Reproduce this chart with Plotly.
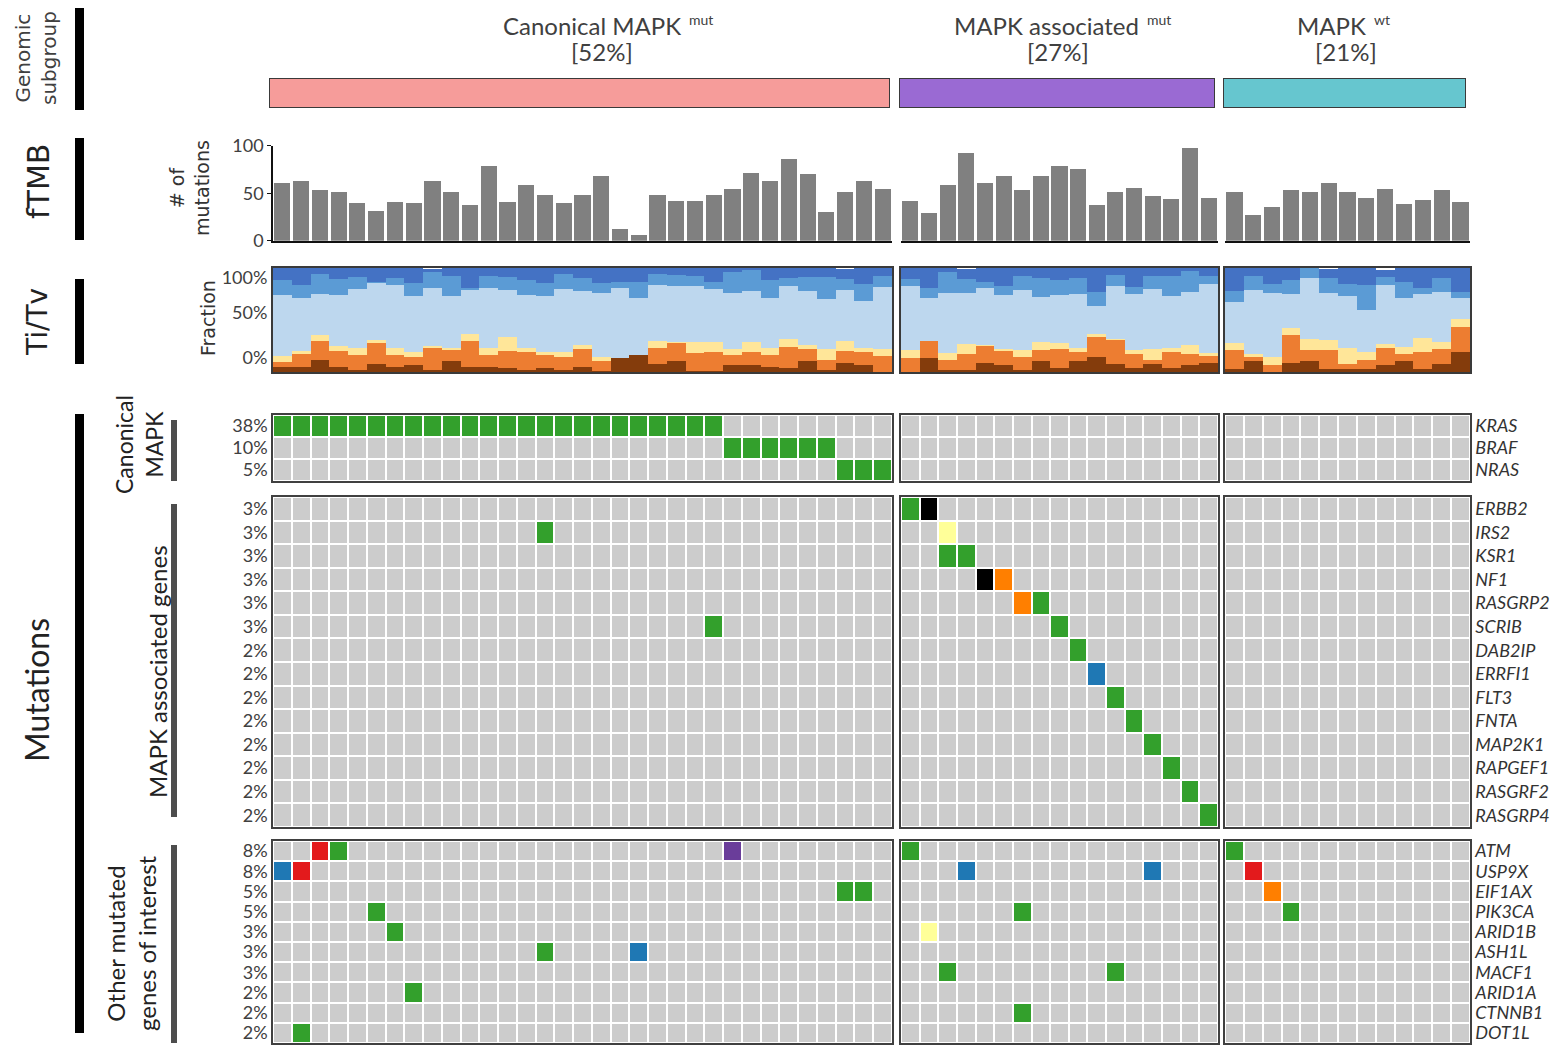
import plotly.graph_objects as go

W, H = 1560, 1045

# ---------------- data ----------------
group_titles = ["Canonical MAPK", "MAPK associated", "MAPK"]
group_status = ["mut", "mut", "wt"]
group_shares = ["[52%]", "[27%]", "[21%]"]
group_sizes = [33, 17, 13]
group_colors = ["#F69C9A", "#9A6AD3", "#66C6CF"]

# fTMB: number of mutations per sample
tmb_canonical = [61, 63, 53, 51, 40, 31, 41, 40, 63, 51, 38, 79, 41, 59, 48, 40, 48, 68,
                 12, 6, 48, 42, 42, 48, 54, 71, 63, 86, 70, 30, 51, 63, 54]
tmb_assoc = [42, 29, 59, 92, 61, 68, 53, 68, 79, 75, 38, 51, 56, 47, 44, 98, 45]
tmb_wt = [51, 27, 36, 53, 51, 61, 51, 45, 54, 39, 43, 53, 41]

# Ti/Tv spectrum (percent of mutations per sample, all 63 samples in plot order)
titv_classes = ["C>A", "C>G", "C>T", "T>A", "T>C", "T>G"]
titv_colors = ["#843C0C", "#ED7D31", "#FFE699", "#BDD7EE", "#5B9BD5", "#4472C4"]
titv_CA = [5, 5, 12, 5, 2, 8, 5, 7, 2, 11, 5, 5, 4, 2, 4, 2, 5, 1, 13, 16, 8, 11, 1, 1, 7, 7, 5, 4, 11, 2, 9, 7, 0,
           0, 13, 2, 2, 9, 7, 2, 11, 4, 11, 14, 8, 4, 8, 4, 7, 9,
           3, 11, 0, 9, 11, 3, 3, 3, 7, 11, 3, 8, 19]
titv_CG = [5, 12, 18, 15, 14, 20, 11, 7, 22, 11, 25, 11, 16, 17, 12, 12, 17, 10, 0, 0, 15, 17, 17, 18, 9, 12, 11, 20, 11, 10, 11, 12, 15,
           13, 17, 10, 15, 16, 14, 12, 10, 18, 8, 20, 23, 13, 4, 15, 10, 6,
           18, 3, 7, 27, 10, 18, 5, 9, 16, 6, 16, 14, 24]
titv_CT = [5, 3, 6, 5, 7, 3, 7, 5, 1, 1, 7, 7, 14, 4, 3, 5, 4, 3, 0, 0, 7, 1, 11, 10, 6, 10, 7, 8, 4, 10, 10, 4, 7,
           8, 0, 6, 10, 1, 1, 7, 8, 6, 4, 3, 1, 4, 10, 4, 9, 3,
           7, 3, 7, 6, 11, 10, 15, 7, 4, 7, 14, 7, 8]
titv_TA = [59, 51, 39, 49, 57, 55, 61, 54, 56, 50, 42, 58, 45, 51, 54, 61, 52, 62, 68, 55, 54, 54, 54, 51, 54, 49, 48, 51, 52, 48, 49, 45, 60,
           62, 41, 58, 49, 55, 52, 58, 43, 46, 52, 26, 51, 54, 58, 50, 51, 67,
           39, 62, 62, 33, 58, 45, 50, 41, 57, 47, 42, 48, 20]
titv_TC = [14, 13, 19, 15, 11, 1, 6, 13, 15, 19, 2, 11, 12, 14, 13, 14, 12, 10, 6, 16, 10, 10, 9, 7, 20, 20, 17, 7, 13, 21, 10, 17, 10,
           6, 10, 20, 13, 6, 9, 13, 18, 14, 15, 14, 10, 7, 12, 19, 20, 7,
           11, 13, 9, 13, 10, 14, 12, 24, 7, 16, 6, 13, 6]
titv_TG = [12, 16, 6, 11, 9, 14, 10, 14, 3, 8, 19, 8, 9, 12, 14, 6, 10, 14, 13, 13, 6, 7, 9, 13, 5, 2, 12, 10, 9, 9, 10, 15, 9,
           11, 19, 5, 10, 13, 17, 9, 10, 12, 10, 25, 8, 19, 9, 8, 5, 8,
           22, 9, 16, 12, 1, 9, 15, 16, 7, 14, 19, 10, 25]

# Mutated genes
genes_canonical = ["KRAS", "BRAF", "NRAS"]
freq_canonical = ["38%", "10%", "5%"]
genes_assoc = ["ERBB2", "IRS2", "KSR1", "NF1", "RASGRP2", "SCRIB", "DAB2IP", "ERRFI1",
               "FLT3", "FNTA", "MAP2K1", "RAPGEF1", "RASGRF2", "RASGRP4"]
freq_assoc = ["3%", "3%", "3%", "3%", "3%", "3%", "2%", "2%", "2%", "2%", "2%", "2%", "2%", "2%"]
genes_other = ["ATM", "USP9X", "EIF1AX", "PIK3CA", "ARID1B", "ASH1L", "MACF1", "ARID1A", "CTNNB1", "DOT1L"]
freq_other = ["8%", "8%", "5%", "5%", "3%", "3%", "3%", "2%", "2%", "2%"]

mutation_types = ["None", "Missense", "Nonsense", "Frameshift", "Splice site", "In-frame", "Multiple", "Other"]
mutation_colors = ["#CCCCCC", "#33A02C", "#000000", "#FFFF99", "#FF7F00", "#1F78B4", "#E31A1C", "#6A3D9A"]

# (gene, mutated samples within subgroup, mutation type)
mutations_canonical = [
    ("KRAS", [1, 2, 3, 4, 5, 6, 7, 8, 9, 10, 11, 12, 13, 14, 15, 16, 17, 18, 19, 20, 21, 22, 23, 24], "Missense"),
    ("BRAF", [25, 26, 27, 28, 29, 30], "Missense"),
    ("NRAS", [31, 32, 33], "Missense"),
    ("IRS2", [15], "Missense"),
    ("SCRIB", [24], "Missense"),
    ("ATM", [3], "Multiple"), ("ATM", [4], "Missense"), ("ATM", [25], "Other"),
    ("USP9X", [1], "In-frame"), ("USP9X", [2], "Multiple"),
    ("EIF1AX", [31, 32], "Missense"),
    ("PIK3CA", [6], "Missense"),
    ("ARID1B", [7], "Missense"),
    ("ASH1L", [15], "Missense"), ("ASH1L", [20], "In-frame"),
    ("ARID1A", [8], "Missense"),
    ("DOT1L", [2], "Missense"),
]
mutations_assoc = [
    ("ERBB2", [1], "Missense"), ("ERBB2", [2], "Nonsense"),
    ("IRS2", [3], "Frameshift"),
    ("KSR1", [3, 4], "Missense"),
    ("NF1", [5], "Nonsense"), ("NF1", [6], "Splice site"),
    ("RASGRP2", [7], "Splice site"), ("RASGRP2", [8], "Missense"),
    ("SCRIB", [9], "Missense"), ("DAB2IP", [10], "Missense"),
    ("ERRFI1", [11], "In-frame"), ("FLT3", [12], "Missense"),
    ("FNTA", [13], "Missense"), ("MAP2K1", [14], "Missense"),
    ("RAPGEF1", [15], "Missense"), ("RASGRF2", [16], "Missense"),
    ("RASGRP4", [17], "Missense"),
    ("ATM", [1], "Missense"), ("USP9X", [4, 14], "In-frame"),
    ("PIK3CA", [7], "Missense"), ("ARID1B", [2], "Frameshift"),
    ("MACF1", [3, 12], "Missense"), ("CTNNB1", [7], "Missense"),
]
mutations_wt = [
    ("ATM", [1], "Missense"), ("USP9X", [2], "Multiple"),
    ("EIF1AX", [3], "Splice site"), ("PIK3CA", [4], "Missense"),
]

# ---------------- figure ----------------
FONT_C = "Lato, 'Noto Sans', sans-serif"
FONT_G = "'DejaVu Sans', Verdana, sans-serif"
TXT = "#404040"
OX, OY = 8, 8  # page body offset

fig = go.Figure()
lay = dict(width=W, height=H, autosize=False,
           margin=dict(l=0, r=0, t=0, b=0, pad=0, autoexpand=False),
           paper_bgcolor="white", plot_bgcolor="white", barmode="stack", showlegend=False,
           font=dict(family=FONT_C, size=16, color=TXT), annotations=[], shapes=[])

col_dom = [(273, 892), (901, 1218), (1225, 1470)]
sub_dom = [(269, 890), (899, 1215), (1223, 1466)]
rows = {"sub": (78, 108), "tmb": (145.7, 240.7), "titv": (268, 372),
        "canon": (415, 481), "assoc": (497, 827), "other": (841, 1043)}


def fx(x):
    return (x - OX) / W


def fy(y):
    return 1 - (y - OY) / H


def xd(a, b):
    return [fx(a), fx(b)]


def yd(top, bot):
    return [fy(bot), fy(top)]


HIDDEN = dict(showgrid=False, zeroline=False, showticklabels=False, ticks="", showline=False,
              fixedrange=True, automargin=False)
counter = [0]


def new_axes():
    counter[0] += 1
    k = counter[0]
    s = "" if k == 1 else str(k)
    return "xaxis" + s, "yaxis" + s, "x" + s, "y" + s


def text_at(text, x, y, size, xanchor="center", yanchor="middle", color=TXT, family=FONT_C, angle=0):
    lay["annotations"].append(dict(x=fx(x), y=fy(y), xref="paper", yref="paper", text=text, textangle=angle,
                                   showarrow=False, xanchor=xanchor, yanchor=yanchor,
                                   font=dict(size=size, family=family, color=color)))


tmb_all = [tmb_canonical, tmb_assoc, tmb_wt]
titv_all = [titv_CA, titv_CG, titv_CT, titv_TA, titv_TC, titv_TG]
mut_all = [mutations_canonical, mutations_assoc, mutations_wt]
blocks = [("canon", genes_canonical, freq_canonical),
          ("assoc", genes_assoc, freq_assoc),
          ("other", genes_other, freq_other)]

n_types = len(mutation_colors)
cscale = []
for i, c in enumerate(mutation_colors):
    cscale.append([i / n_types, c])
    cscale.append([(i + 1) / n_types, c])

title_right = [683, 1141, 1368]
share_center = [602, 1058, 1346]

start = 0
for g in range(3):
    n = group_sizes[g]
    samples = list(range(1, n + 1))

    # ---- subgroup bar ----
    xa, ya, xr, yr = new_axes()
    fig.add_trace(go.Bar(x=[(n + 1) / 2], y=[1], width=[n], cliponaxis=False,
                         marker=dict(color=group_colors[g], line=dict(color="#3a3a3a", width=1.5)),
                         xaxis=xr, yaxis=yr, hoverinfo="skip"))
    lay[xa] = dict(HIDDEN, domain=xd(*sub_dom[g]), range=[0.5, n + 0.5], anchor=yr)
    lay[ya] = dict(HIDDEN, domain=yd(*rows["sub"]), range=[0, 1], anchor=xr)
    text_at(group_titles[g], title_right[g], 25, 24, xanchor="right")
    text_at(group_status[g], title_right[g] + 4, 19, 14, xanchor="left")
    text_at(group_shares[g], share_center[g], 51, 24)

    # ---- fTMB ----
    xa, ya, xr, yr = new_axes()
    fig.add_trace(go.Bar(x=samples, y=tmb_all[g], width=0.86, marker=dict(color="#808080", line=dict(width=0)),
                         xaxis=xr, yaxis=yr, name="fTMB"))
    lay[xa] = dict(HIDDEN, domain=xd(*col_dom[g]), range=[0.5, n + 0.5], anchor=yr,
                   showline=True, linecolor="#111111", linewidth=2)
    ycfg = dict(HIDDEN, domain=yd(*rows["tmb"]), range=[0, 100], anchor=xr)
    if g == 0:
        ycfg.update(showline=True, linecolor="#111111", linewidth=1.5, ticks="outside", ticklen=4,
                    tickcolor="#111111", showticklabels=True, tickvals=[0, 50, 100],
                    tickfont=dict(size=18, color=TXT))
    lay[ya] = ycfg

    # ---- Ti/Tv ----
    xa, ya, xr, yr = new_axes()
    for cls, col, vals in zip(titv_classes, titv_colors, titv_all):
        fig.add_trace(go.Bar(x=samples, y=vals[start:start + n], width=1.0, name=cls,
                             marker=dict(color=col, line=dict(width=0)), xaxis=xr, yaxis=yr))
    lay[xa] = dict(HIDDEN, domain=xd(*col_dom[g]), range=[0.5, n + 0.5], anchor=yr,
                   showline=True, mirror=True, linecolor="#3a3a3a", linewidth=2)
    ycfg = dict(HIDDEN, domain=yd(*rows["titv"]), range=[0, 100], anchor=xr,
                showline=True, mirror=True, linecolor="#3a3a3a", linewidth=2)
    if g == 0:
        ycfg.update(showticklabels=True, tickvals=[14, 57, 91], ticktext=["0%", "50%", "100%"],
                    tickfont=dict(size=18, color=TXT))
    lay[ya] = ycfg

    # ---- mutation grids ----
    for key, genes, freqs in blocks:
        xa, ya, xr, yr = new_axes()
        z = [[0] * n for _ in genes]
        for gene, hits, mtype in mut_all[g]:
            if gene in genes:
                for s in hits:
                    z[genes.index(gene)][s - 1] = mutation_types.index(mtype)
        fig.add_trace(go.Heatmap(z=z, x=samples, y=list(range(len(genes))), colorscale=cscale,
                                 zmin=0, zmax=n_types, showscale=False, xgap=2, ygap=2,
                                 xaxis=xr, yaxis=yr, hoverinfo="skip"))
        lay[xa] = dict(HIDDEN, domain=xd(*col_dom[g]), range=[0.5, n + 0.5], anchor=yr,
                       showline=True, mirror=True, linecolor="#404040", linewidth=1.5)
        ycfg = dict(HIDDEN, domain=yd(*rows[key]), range=[len(genes) - 0.5, -0.5], anchor=xr,
                    showline=True, mirror=True, linecolor="#404040", linewidth=1.5)
        if g == 0:
            ycfg.update(showticklabels=True, tickvals=list(range(len(genes))), ticktext=freqs,
                        tickfont=dict(size=18, color=TXT))
        elif g == 2:
            ycfg.update(showticklabels=True, side="right", tickvals=list(range(len(genes))),
                        ticktext=["<i>%s</i>" % x for x in genes], tickfont=dict(size=18, color="#333333"))
        lay[ya] = ycfg
    start += n

# ---- left-hand labels ----
text_at("Genomic<br>subgroup", 36, 58, 20, family=FONT_G, angle=-90)
text_at("fTMB", 38, 182, 30, family=FONT_G, color="#222222", angle=-90)
text_at("Ti/Tv", 38, 322, 28, family=FONT_G, color="#222222", angle=-90)
text_at("Mutations", 36, 690, 32, color="#222222", angle=-90)
text_at("# of<br>mutations", 189, 188, 19, family=FONT_G, color="#333333", angle=-90)
text_at("Fraction", 208, 318, 19, family=FONT_G, color="#333333", angle=-90)
text_at("Canonical<br>MAPK", 139, 445, 23, color="#222222", angle=-90)
text_at("MAPK associated genes", 157, 672, 24, color="#222222", angle=-90)
text_at("Other mutated<br>genes of interest", 131, 943, 24, color="#222222", angle=-90)


def vbar(x0, x1, y0, y1, color):
    lay["shapes"].append(dict(type="rect", xref="paper", yref="paper", x0=fx(x0), x1=fx(x1),
                              y0=fy(y1), y1=fy(y0), fillcolor=color, line=dict(width=0)))


for y0, y1 in [(8, 110), (138, 240), (279, 364), (414, 1033)]:
    vbar(75, 84, y0, y1, "#000000")
for y0, y1 in [(420, 481), (504, 817), (845, 1043)]:
    vbar(171, 177, y0, y1, "#4d4d4d")

fig.update_layout(**lay)
fig.write_html("out.html")
